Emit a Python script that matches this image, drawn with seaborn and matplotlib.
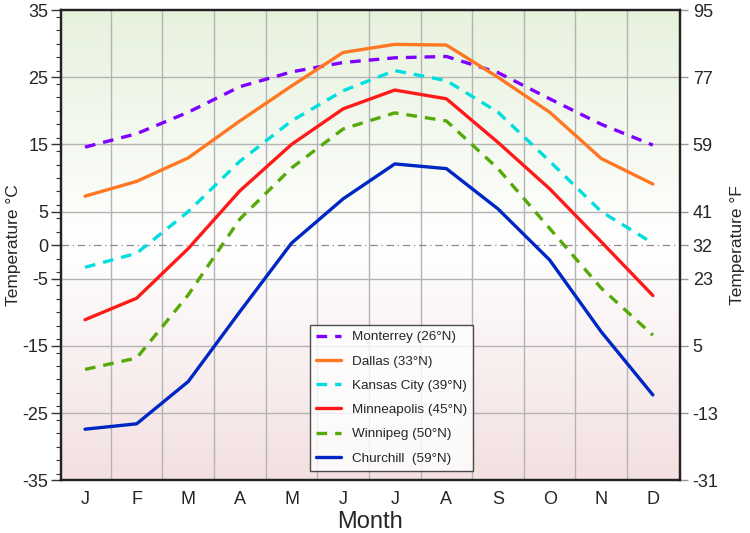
import numpy as np
import pandas as pd
import matplotlib
matplotlib.use("Agg")
import matplotlib.pyplot as plt
import seaborn as sns
from matplotlib.colors import LinearSegmentedColormap
from matplotlib.ticker import FixedLocator, MultipleLocator

months = ["J", "F", "M", "A", "M", "J", "J", "A", "S", "O", "N", "D"]

cities = [
    "Monterrey (26°N)",
    "Dallas (33°N)",
    "Kansas City (39°N)",
    "Minneapolis (45°N)",
    "Winnipeg (50°N)",
    "Churchill  (59°N)",
]

# mean monthly temperature, °C
monterrey = [14.6, 16.6, 19.8, 23.6, 25.8, 27.2, 27.9, 28.1, 25.7, 21.8, 18.0, 14.9]
dallas = [7.3, 9.5, 13.0, 18.5, 23.7, 28.7, 29.9, 29.8, 25.0, 19.8, 12.9, 9.1]
kansas_city = [-3.3, -1.2, 5.0, 12.5, 18.5, 23.0, 26.0, 24.5, 19.8, 12.5, 5.0, 0.3]
minneapolis = [-11.1, -7.9, -0.5, 8.1, 15.0, 20.3, 23.1, 21.8, 15.3, 8.4, 0.5, -7.5]
winnipeg = [-18.5, -16.8, -7.4, 3.9, 11.5, 17.3, 19.7, 18.5, 11.4, 2.5, -6.4, -13.4]
churchill = [-27.4, -26.6, -20.3, -9.9, 0.3, 6.9, 12.1, 11.4, 5.4, -2.2, -12.9, -22.3]

c_ticks = [35, 25, 15, 5, 0, -5, -15, -25, -35]
f_ticks = [95, 77, 59, 41, 32, 23, 5, -13, -31]


def main():
    series = [monterrey, dallas, kansas_city, minneapolis, winnipeg, churchill]
    df = pd.concat(
        [pd.DataFrame({"month": np.arange(12), "temp": vals, "city": name})
         for name, vals in zip(cities, series)],
        ignore_index=True,
    )

    colors = ["#7f00ff", "#ff7722", "#00dede", "#ff1a1a", "#55aa0a", "#0026c4"]
    dashed = [True, False, True, False, True, False]

    sns.set_style("white")
    plt.rcParams["font.family"] = ["Liberation Sans", "DejaVu Sans"]

    fig = plt.figure(figsize=(7.5, 5.33), dpi=100)
    ax = fig.add_axes([0.081, 0.099, 0.826, 0.882])

    # fond dégradé: vert (chaud) -> blanc (0 °C) -> rose (froid)
    cmap = LinearSegmentedColormap.from_list(
        "bg", [(0.0, "#f3e0e1"), (0.5, "#ffffff"), (1.0, "#e7f2dd")]
    )
    grad = np.linspace(0, 1, 256).reshape(-1, 1)
    ax.imshow(grad, cmap=cmap, aspect="auto", origin="lower",
              extent=[-0.47, 11.53, -35, 35], zorder=0)

    for name, col, dsh in zip(cities, colors, dashed):
        sns.lineplot(data=df[df["city"] == name], x="month", y="temp",
                     color=col, linewidth=2.4, label=name, ax=ax, zorder=3,
                     dashes=False)
        if dsh:
            ax.lines[-1].set_dashes((3.2, 2.4))

    ax.axhline(0, color="#8c8c8c", linewidth=0.9, linestyle=(0, (6, 3, 1, 3)), zorder=2)

    ax.set_xlim(-0.47, 11.53)
    ax.set_ylim(-35, 35)
    ax.set_xticks(range(12))
    ax.set_xticklabels(months)
    ax.xaxis.set_minor_locator(FixedLocator(np.arange(0.5, 11, 1)))
    ax.set_yticks(c_ticks)
    ax.set_yticklabels([str(t) for t in c_ticks])
    ax.yaxis.set_minor_locator(MultipleLocator(2))

    ax.grid(False)
    ax.grid(which="minor", axis="x", color="#b4b4b4", linewidth=1.0, zorder=1)
    for y in [25, 15, 5, -5, -15, -25]:
        ax.axhline(y, color="#b4b4b4", linewidth=1.0, zorder=1)

    ax.tick_params(axis="x", which="both", length=0, labelsize=13, pad=8)
    ax.tick_params(axis="y", which="major", direction="out", length=7, width=1,
                   labelsize=13, left=True, color="#333333", pad=2)
    ax.tick_params(axis="y", which="minor", direction="out", length=3.5, width=0.8,
                   left=True, color="#333333")

    ax.set_xlabel("Month", fontsize=17, labelpad=2)
    ax.set_ylabel("Temperature °C", fontsize=12.5, labelpad=1)
    for s in ax.spines.values():
        s.set_color("#222222")
        s.set_linewidth(1.6)

    ax2 = ax.twinx()
    ax2.set_ylim(-31, 95)
    ax2.set_yticks(f_ticks)
    ax2.set_yticklabels([str(t) for t in f_ticks])
    ax2.tick_params(axis="y", direction="out", length=6, width=1, labelsize=13,
                    right=True, color="#999999", pad=3)
    ax2.set_ylabel("Temperature °F", fontsize=12.5, labelpad=8)
    ax2.grid(False)
    for s in ax2.spines.values():
        s.set_color("#222222")
        s.set_linewidth(1.6)

    leg = ax.legend(loc="lower left", bbox_to_anchor=(0.402, 0.02), fontsize=9.7,
                    frameon=True, fancybox=False, handlelength=1.9,
                    labelspacing=0.88, borderpad=0.45, handletextpad=0.75,
                    borderaxespad=0)
    leg.get_frame().set_edgecolor("#222222")
    leg.get_frame().set_linewidth(1.0)
    leg.get_frame().set_facecolor("white")
    leg.set_zorder(5)

    fig.savefig("out.png", dpi=100)
    plt.close(fig)


if __name__ == "__main__":
    main()
